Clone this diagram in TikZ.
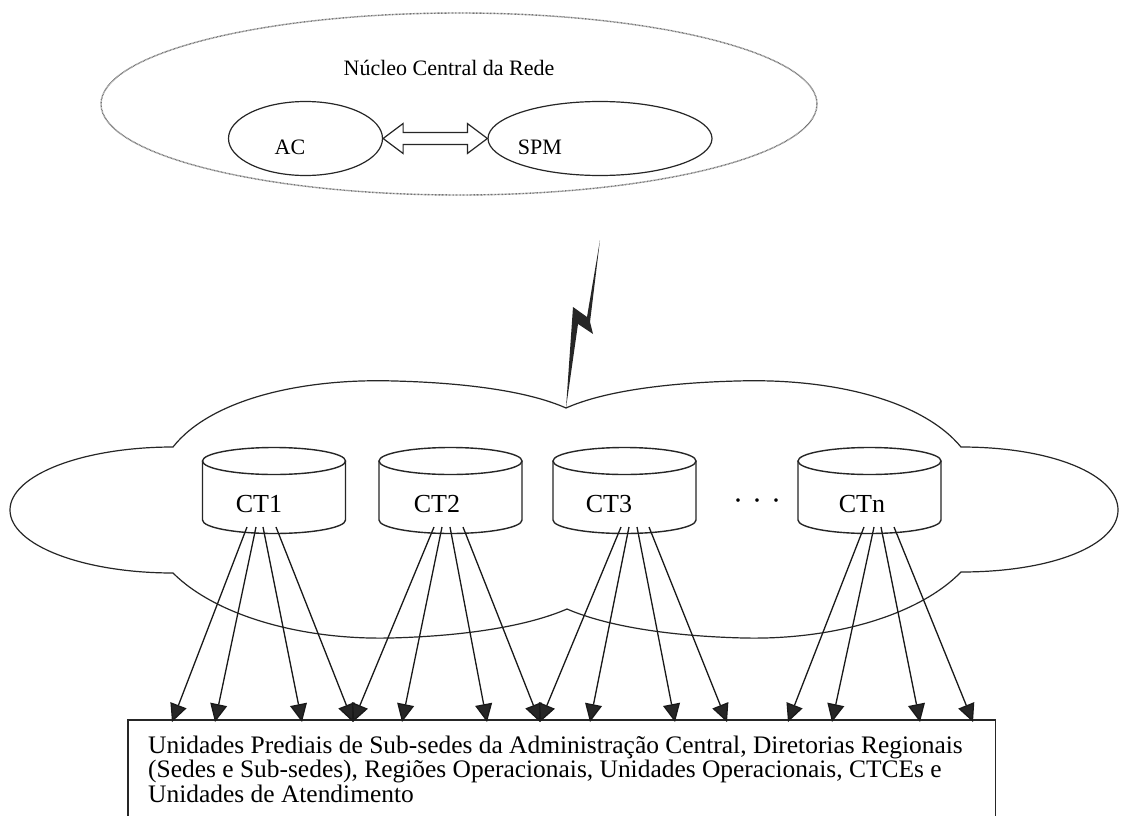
\documentclass[tikz,border=0pt]{standalone}
\usepackage{fontspec}
\setmainfont{Liberation Serif}
\usetikzlibrary{arrows.meta,calc,shapes.geometric}
\begin{document}
\begin{tikzpicture}[x=1pt,y=1pt,
  line/.style={draw=black!85, line width=1.2pt},
  outer/.style={ellipse, draw=black!55, line width=1.4pt, dash pattern=on 0.8pt off 0.6pt, inner sep=0pt},
  ell/.style={ellipse, draw=black!85, line width=1.2pt, inner sep=0pt},
  lbl/.style={font=\fontsize{22}{22}\selectfont, inner sep=0pt},
  ctlbl/.style={font=\fontsize{26}{26}\selectfont, inner sep=0pt},
  arr/.style={draw=black!90, line width=1.3pt, -{Triangle[length=18pt,width=17pt,fill=black!85]}},
  boxline/.style={draw=black!85, line width=1.3pt}
]
\useasboundingbox (0,0) rectangle (1121,-816);
\fill[white] (0,0) rectangle (1121,-816);

% central core
\node[outer, minimum width=716pt, minimum height=182pt] (core) at (459,-104) {};
\node[lbl, anchor=base] (title) at (449,-75) {Núcleo Central da Rede};
\node[ell, minimum width=154pt, minimum height=74pt] (ac) at (305.5,-138.5) {};
\node[ell, minimum width=224pt, minimum height=74pt] (spm) at (600,-138.5) {};
\node[lbl, anchor=base] (actext) at (290,-154) {AC};
\node[lbl, anchor=base] (spmtext) at (540,-154) {SPM};
\draw[line, fill=white] (ac.east) -- ++(20,15) -- ++(0,-9) -- ($(spm.west)+(-20,6)$) -- ++(0,9) -- (spm.west)
  -- ++(-20,-15) -- ++(0,9) -- ($(ac.east)+(20,-6)$) -- ++(0,-9) -- cycle;

% lightning
\fill[black!85] (600,-240) -- (590,-322) -- (593,-334) -- (578,-324) -- (566,-408) -- (573,-307) -- (587,-317) -- cycle;

% cloud
\draw[line] (566,-408) .. controls (530,-392) and (470,-383) .. (395,-381)
  .. controls (300,-378) and (210,-400) .. (173,-447)
  .. controls (83,-447) and (10,-475) .. (10,-510)
  .. controls (10,-545) and (83,-573) .. (173,-573)
  .. controls (215,-615) and (300,-640) .. (390,-638)
  .. controls (470,-636) and (530,-625) .. (567,-609)
  .. controls (604,-625) and (664,-636) .. (744,-638)
  .. controls (834,-640) and (919,-615) .. (961,-572)
  .. controls (1053,-572) and (1118,-545) .. (1118,-510)
  .. controls (1118,-475) and (1053,-447) .. (961,-447)
  .. controls (922,-400) and (832,-378) .. (737,-381)
  .. controls (662,-383) and (602,-392) .. (566,-408) -- cycle;

% cylinders
\foreach \cx/\nm/\tx/\dx in {274/ct1/CT1/-15, 450.5/ct2/CT2/-13.5, 624.5/ct3/CT3/-15.5, 869.5/ctn/CTn/-7.5}{
  \draw[line, line width=1.4pt] (\cx-71.5,-461) -- (\cx-71.5,-520) arc[start angle=180,end angle=360,x radius=71.5,y radius=13.5] -- (\cx+71.5,-461);
  \draw[line, line width=1.4pt] (\cx,-461) ellipse[x radius=71.5,y radius=13.5];
  \node[ctlbl, anchor=base] (\nm) at (\cx+\dx,-512) {\tx};
}
\node[font=\fontsize{30}{30}\selectfont, inner sep=0pt] (dots) at (757,-505) {·\kern9pt·\kern9pt·};

% box
\node[minimum width=867pt, minimum height=100pt, anchor=north west, inner sep=0pt] (box) at (128,-720) {};
\draw[boxline] (box.south west) -- (box.north west) -- (box.north east) -- (box.south east);
\node[anchor=base west, inner sep=0pt, font=\fontsize{24}{23.5}\selectfont] (boxtext) at (148,-753)
  {\scalebox{1.06}[1.05]{\begin{tabular}[t]{@{}l@{}}Unidades Prediais de Sub-sedes da Administração Central, Diretorias Regionais\\
  (Sedes e Sub-sedes), Regiões Operacionais, Unidades Operacionais, CTCEs e\\
  Unidades de Atendimento\end{tabular}}};

% start and end points
\foreach \n/\x in {a1/247,a2/256,a3/263,a4/276,b1/434,b2/442,b3/450,b4/463,c1/621,c2/629,c3/637,c4/649,d1/864,d2/874,d3/881,d4/894}
  \coordinate (s\n) at (\x,-527);
\foreach \n/\x in {a1/172,a2/215,a3/302,a4/353,b1/353,b2/402,b3/487,b4/540,c1/540,c2/590,c3/675,c4/727,d1/788,d2/832,d3/920,d4/973}
  \coordinate (e\n) at (\x,-722);
\foreach \n in {a1,a2,a3,a4,b1,b2,b3,b4,c1,c2,c3,c4,d1,d2,d3,d4}
  \draw[arr] (s\n) -- (e\n);
\end{tikzpicture}
\end{document}
